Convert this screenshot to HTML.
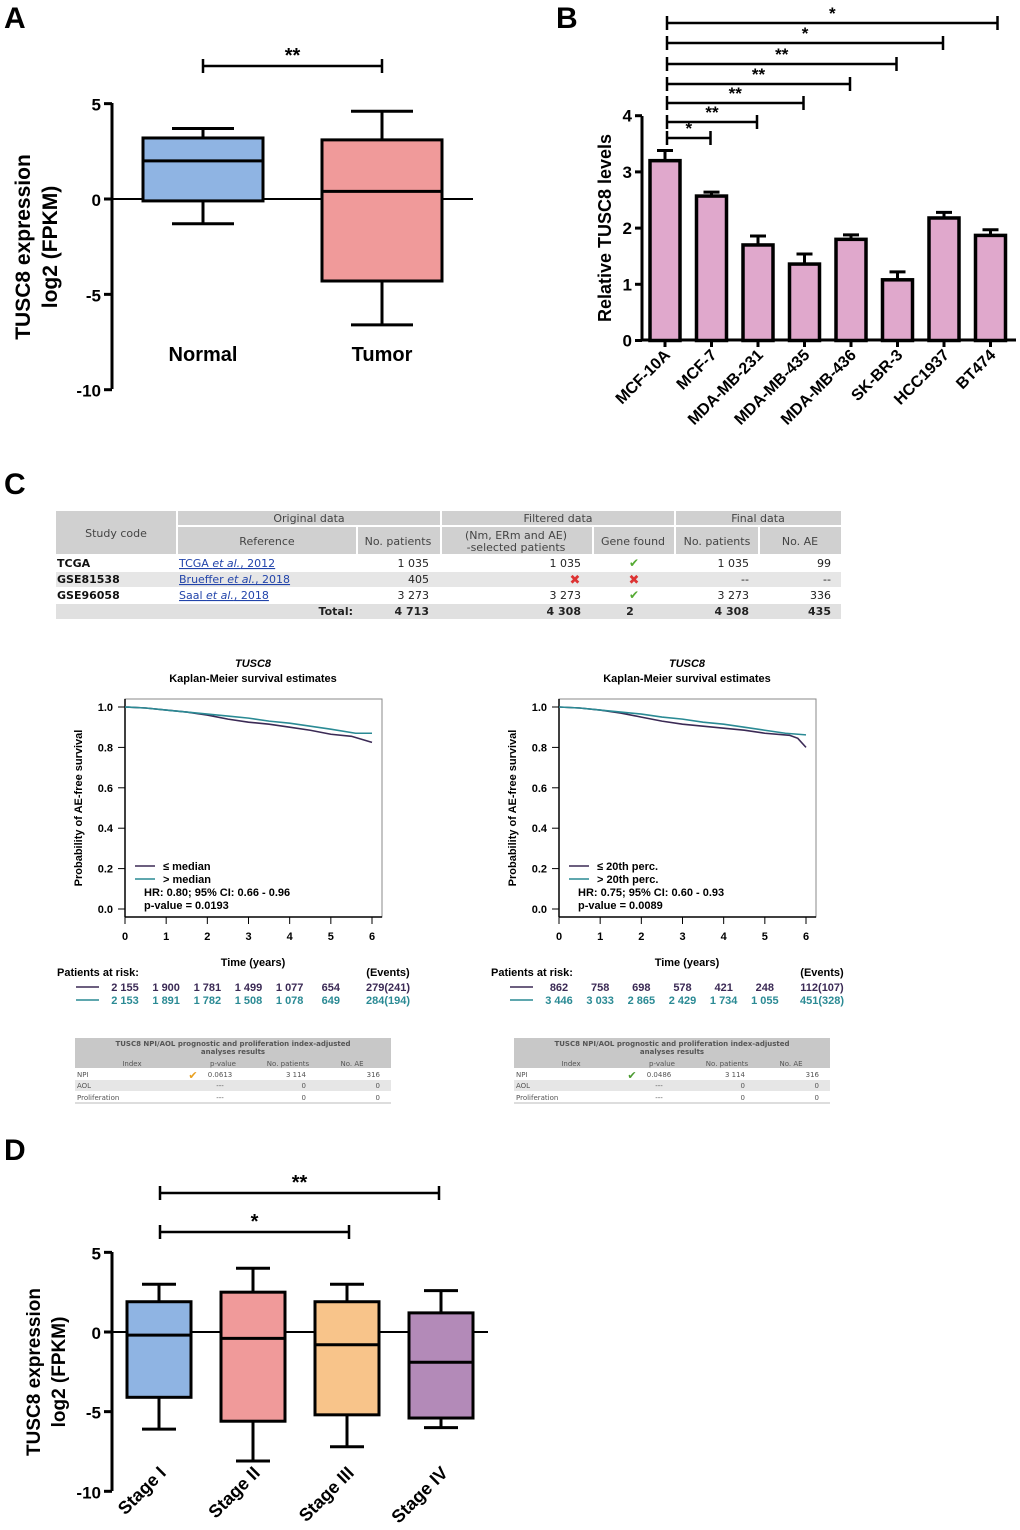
<!DOCTYPE html>
<html><head><meta charset="utf-8"><style>
body{margin:0;background:#fff}
svg{display:block;font-family:"Liberation Sans",Arial,sans-serif}
.ax{stroke:#000;stroke-width:3;fill:none}
.t{font-weight:bold;font-size:17px}
.tbl{font-family:"DejaVu Sans","Liberation Sans",sans-serif;font-size:11px;fill:#222}
.km{font-family:"Liberation Sans",sans-serif;font-weight:bold;font-size:11px}
.sm{font-family:"DejaVu Sans",sans-serif;font-size:7px;fill:#555}
</style></head><body>
<svg id="fig" width="1020" height="1530" viewBox="0 0 1020 1530">
<g font-weight="bold" font-size="30">
<text x="4" y="28">A</text><text x="556" y="28">B</text><text x="4" y="494">C</text><text x="4" y="1160">D</text></g>

<g id="pA">
<line class="ax" x1="112" y1="103" x2="112" y2="389"/>
<text transform="translate(30,247) rotate(-90)" text-anchor="middle" font-size="21" font-weight="bold">TUSC8 expression</text>
<text transform="translate(57,247) rotate(-90)" text-anchor="middle" font-size="21" font-weight="bold">log2 (FPKM)</text>
</g>
<g id="pB">
<line class="ax" x1="642" y1="116" x2="642" y2="341"/>
<line class="ax" x1="642" y1="340" x2="1016" y2="340"/>
<text transform="translate(611,228) rotate(-90)" text-anchor="middle" font-size="18" font-weight="bold">Relative TUSC8 levels</text>
</g>

<g class="tbl">
<rect x="56" y="511" width="120" height="43" fill="#d0d0d0"/>
<rect x="178" y="511" width="262" height="14" fill="#d0d0d0"/>
<rect x="442" y="511" width="232" height="14" fill="#d0d0d0"/>
<rect x="676" y="511" width="165" height="14" fill="#d0d0d0"/>
<rect x="178" y="527" width="178" height="27" fill="#d0d0d0"/>
<rect x="358" y="527" width="82" height="27" fill="#d0d0d0"/>
<rect x="442" y="527" width="150" height="27" fill="#d0d0d0"/>
<rect x="594" y="527" width="80" height="27" fill="#d0d0d0"/>
<rect x="676" y="527" width="82" height="27" fill="#d0d0d0"/>
<rect x="760" y="527" width="81" height="27" fill="#d0d0d0"/>
<rect x="56" y="572" width="785" height="15" fill="#e6e6e6"/>
<rect x="56" y="604" width="785" height="15" fill="#e0e0e0"/>
<g fill="#444" text-anchor="middle">
<text x="116" y="537">Study code</text><text x="309" y="522">Original data</text><text x="558" y="522">Filtered data</text><text x="758" y="522">Final data</text>
<text x="267" y="545">Reference</text><text x="398" y="545">No. patients</text><text x="516" y="539">(Nm, ERm and AE)</text><text x="516" y="551">-selected patients</text><text x="633" y="545">Gene found</text><text x="717" y="545">No. patients</text><text x="800" y="545">No. AE</text></g>
<g font-weight="bold" fill="#111"><text x="57" y="567">TCGA</text><text x="57" y="583">GSE81538</text><text x="57" y="599">GSE96058</text></g>
<g fill="#2244aa" text-decoration="underline"><text x="179" y="567">TCGA <tspan font-style="italic">et al.</tspan>, 2012</text><text x="179" y="583">Brueffer <tspan font-style="italic">et al.</tspan>, 2018</text><text x="179" y="599">Saal <tspan font-style="italic">et al.</tspan>, 2018</text></g>
<g text-anchor="end"><text x="429" y="567">1 035</text><text x="429" y="583">405</text><text x="429" y="599">3 273</text>
<text x="581" y="567">1 035</text><text x="581" y="599">3 273</text><text x="749" y="567">1 035</text><text x="749" y="583">--</text><text x="749" y="599">3 273</text>
<text x="831" y="567">99</text><text x="831" y="583">--</text><text x="831" y="599">336</text>
<g font-weight="bold"><text x="353" y="615">Total:</text><text x="429" y="615">4 713</text><text x="581" y="615">4 308</text><text x="749" y="615">4 308</text><text x="831" y="615">435</text></g></g>
<text x="630" y="615" font-weight="bold" text-anchor="middle">2</text>
<g fill="#5a3" text-anchor="middle" font-size="12"><text x="634" y="567">✔</text><text x="634" y="599">✔</text></g>
<g fill="#d33" text-anchor="middle" font-size="13" font-weight="bold"><text x="575" y="584">✖</text><text x="634" y="584">✖</text></g>
</g>

<g id="km"></g>

<g id="pD">
<line class="ax" x1="112" y1="1252" x2="112" y2="1491"/>
<text transform="translate(40,1372) rotate(-90)" text-anchor="middle" font-size="19" font-weight="bold">TUSC8 expression</text>
<text transform="translate(65,1372) rotate(-90)" text-anchor="middle" font-size="19" font-weight="bold">log2 (FPKM)</text>
</g>
</svg>
<script>
const NS='http://www.w3.org/2000/svg';
function mk(p,tag,a,txt){const e=document.createElementNS(NS,tag);for(const k in a)e.setAttribute(k,a[k]);if(txt!==undefined)e.textContent=txt;p.appendChild(e);return e;}

// ---------- Panel A data ----------
const aCats=['Normal','Tumor'];
const aMin=[-1.3,-6.6];
const aQ1=[-0.1,-4.3];
const aMed=[2.0,0.4];
const aQ3=[3.2,3.1];
const aMax=[3.7,4.6];
const aTicks=[5,0,-5,-10];
// ---------- Panel B data ----------
const bCats=['MCF-10A','MCF-7','MDA-MB-231','MDA-MB-435','MDA-MB-436','SK-BR-3','HCC1937','BT474'];
const bVals=[3.2,2.57,1.7,1.36,1.8,1.08,2.18,1.87];
const bErr=[0.18,0.07,0.16,0.18,0.08,0.14,0.1,0.1];
const bTicks=[0,1,2,3,4];
const bSigTarget=[1,2,3,4,5,6,7];
const bSigLabel=['*','**','**','**','**','*','*'];
// ---------- Panel C KM data ----------
const kmTL1=[0,0.5,1,1.5,2,2.5,3,3.5,4,4.5,5,5.5,6];
const kmL1=[1,0.995,0.985,0.975,0.96,0.94,0.925,0.915,0.9,0.885,0.865,0.855,0.825];
const kmTL2=[0,0.5,1,1.5,2,2.5,3,3.5,4,4.5,5,5.6,6];
const kmL2=[1,0.995,0.985,0.975,0.965,0.955,0.945,0.93,0.92,0.905,0.89,0.87,0.87];
const kmTR1=[0,0.5,1,1.5,2,2.5,3,3.5,4,4.5,5,5.6,5.8,6];
const kmR1=[1,0.995,0.985,0.97,0.95,0.93,0.915,0.905,0.895,0.885,0.87,0.86,0.845,0.80];
const kmTR2=[0,0.5,1,1.5,2,2.5,3,3.5,4,4.5,5,5.5,6];
const kmR2=[1,0.995,0.985,0.975,0.965,0.95,0.94,0.925,0.915,0.9,0.885,0.87,0.862];
const riskL1=['2 155','1 900','1 781','1 499','1 077','654','279(241)'];
const riskL2=['2 153','1 891','1 782','1 508','1 078','649','284(194)'];
const riskR1=['862','758','698','578','421','248','112(107)'];
const riskR2=['3 446','3 033','2 865','2 429','1 734','1 055','451(328)'];
const kmYT=[0,0.2,0.4,0.6,0.8,1.0];
const kmXT=[0,1,2,3,4,5,6];
// ---------- Panel D data ----------
const dCats=['Stage I','Stage II','Stage III','Stage IV'];
const dMin=[-6.1,-8.1,-7.2,-6.0];
const dQ1=[-4.1,-5.6,-5.2,-5.4];
const dMed=[-0.2,-0.4,-0.8,-1.9];
const dQ3=[1.9,2.5,1.9,1.2];
const dMax=[3.0,4.0,3.0,2.6];
const dColors=['#8fb4e3','#f09a9a','#f8c48a','#b38ab8'];
const dTicks=[5,0,-5,-10];

function boxes(g,cats,mn,q1,md,q3,mx,cols,xc,hw,cw,y,sw){
 cats.forEach((c,i)=>{const cx=xc(i);
  let e=mk(g,'line',{x1:cx,x2:cx,y1:y(mx[i]),y2:y(q3[i]),stroke:'#000','stroke-width':sw});
  
  
  e=mk(g,'line',{x1:cx,x2:cx,y1:y(q1[i]),y2:y(mn[i]),stroke:'#000','stroke-width':sw});
  
  
  e=mk(g,'line',{x1:cx-cw,x2:cx+cw,y1:y(mx[i]),y2:y(mx[i]),stroke:'#000','stroke-width':sw});
  
  
  e=mk(g,'line',{x1:cx-cw,x2:cx+cw,y1:y(mn[i]),y2:y(mn[i]),stroke:'#000','stroke-width':sw});
  
  
  e=mk(g,'rect',{x:cx-hw,y:y(q3[i]),width:2*hw,height:y(q1[i])-y(q3[i]),fill:cols[i],stroke:'#000','stroke-width':sw});
  
  
  e=mk(g,'line',{x1:cx-hw,x2:cx+hw,y1:y(md[i]),y2:y(md[i]),stroke:'#000','stroke-width':sw});
  
  
 });
}
function sig(g,x1,x2,yy,lab,fs){
 let e=mk(g,'path',{d:`M${x1},${yy-7}V${yy+7}M${x1},${yy}H${x2}M${x2},${yy-7}V${yy+7}`,stroke:'#000','stroke-width':2.5,fill:'none'});
 
 
 e=mk(g,'text',{x:(x1+x2)/2,y:yy-4,'text-anchor':'middle','font-size':fs,'font-weight':'bold'},lab);
 
 
}

(function(){const g=document.getElementById('pA');
 const y=v=>199-v*19.07;
 aTicks.forEach(t=>{let e=mk(g,'line',{x1:104,x2:112,y1:y(t),y2:y(t),stroke:'#000','stroke-width':3});
  
  
  e=mk(g,'text',{x:101,y:y(t)+7,'text-anchor':'end',class:'t'},String(t));
  
  });
 let e=mk(g,'line',{x1:112,x2:473,y1:y(0),y2:y(0),stroke:'#000','stroke-width':2});
 
 
 const xc=i=>203+i*179;
 boxes(g,aCats,aMin,aQ1,aMed,aQ3,aMax,['#8fb4e3','#f09a9a'],xc,60,31,y,3);
 aCats.forEach((c,i)=>{const t=mk(g,'text',{x:xc(i),y:361,'text-anchor':'middle','font-size':20,'font-weight':'bold'},c);
  
  });
 sig(g,xc(0),xc(1),66,'**',20);
})();

(function(){const g=document.getElementById('pB');
 const y=v=>340.5-v*56.2; const xc=i=>665+i*46.5;
 bTicks.forEach(t=>{let e=mk(g,'line',{x1:635,x2:642,y1:y(t),y2:y(t),stroke:'#000','stroke-width':3});
  
  
  e=mk(g,'text',{x:632,y:y(t)+6,'text-anchor':'end',class:'t'},String(t));
  
  });
 bCats.forEach((c,i)=>{const cx=xc(i);
  let e=mk(g,'path',{d:`M${cx-8},${y(bVals[i]+bErr[i])}H${cx+8}M${cx},${y(bVals[i]+bErr[i])}V${y(bVals[i])}`,stroke:'#000','stroke-width':3});
  
  
  e=mk(g,'rect',{x:cx-15,y:y(bVals[i]),width:30,height:y(0)-y(bVals[i]),fill:'#e0a8cc',stroke:'#000','stroke-width':3.5});
  
  
  e=mk(g,'line',{x1:cx,x2:cx,y1:340,y2:347,stroke:'#000','stroke-width':3});
  
  
  e=mk(g,'text',{transform:`translate(${cx+6},${356}) rotate(-45)`,'text-anchor':'end','font-size':16,'font-weight':'bold'},c);
  
  
 });
 const ys=[138,122,103,84,64,43,23];
 bSigTarget.forEach((t,k)=>{sig(g,667,xc(t)+(k==6?7:-1),ys[k],bSigLabel[k],17);});
})();

(function(){const g=document.getElementById('km');
 function plot(ox,s1t,s1,s2t,s2,leg1,leg2,hr,pv,r1,r2){
  const X=t=>ox+t*(247/6), Y=p=>909-p*202;
  let e=mk(g,'rect',{x:ox,y:699,width:257,height:218,fill:'none',stroke:'#888','stroke-width':1});
  
  
  e=mk(g,'path',{d:`M${ox},917H${ox+257}M${ox},917V699`,stroke:'#000','stroke-width':1.5,fill:'none'});
  
  
  e=mk(g,'text',{x:ox+128,y:667,'text-anchor':'middle',class:'km','font-style':'italic'},'TUSC8');
  
  
  e=mk(g,'text',{x:ox+128,y:682,'text-anchor':'middle',class:'km'},'Kaplan-Meier survival estimates');
  
  
  e=mk(g,'text',{transform:`translate(${ox-43},808) rotate(-90)`,'text-anchor':'middle',class:'km','font-weight':'normal','font-size':'10.5px'},'Probability of AE-free survival');
  
  
  kmYT.forEach(t=>{let e=mk(g,'line',{x1:ox-7,x2:ox,y1:Y(t),y2:Y(t),stroke:'#000'});
   
   
   e=mk(g,'text',{x:ox-12,y:Y(t)+4,'text-anchor':'end',class:'km'},t.toFixed(1));
   
   });
  kmXT.forEach(t=>{let e=mk(g,'line',{x1:X(t),x2:X(t),y1:917,y2:924,stroke:'#000'});
   
   
   e=mk(g,'text',{x:X(t),y:940,'text-anchor':'middle',class:'km'},String(t));
   
   });
  e=mk(g,'text',{x:ox+128,y:966,'text-anchor':'middle',class:'km'},'Time (years)');
  
  
  [[s1t,s1,'#3b2a55'],[s2t,s2,'#2a8a94']].forEach(([ts,s,c],k)=>{let d=`M${X(ts[0])},${Y(s[0])}`;
   for(let i=1;i<s.length;i++){d+=`L${X(ts[i])},${Y(s[i])}`;}
   const e=mk(g,'path',{d:d,stroke:c,'stroke-width':1.6,fill:'none'});
   
   });
  e=mk(g,'line',{x1:ox+10,x2:ox+30,y1:866,y2:866,stroke:'#3b2a55','stroke-width':1.5});
  
  
  e=mk(g,'line',{x1:ox+10,x2:ox+30,y1:879,y2:879,stroke:'#2a8a94','stroke-width':1.5});
  
  
  e=mk(g,'text',{x:ox+38,y:870,class:'km','font-size':'10px'},leg1);
  
  
  e=mk(g,'text',{x:ox+38,y:883,class:'km','font-size':'10px'},leg2);
  
  
  e=mk(g,'text',{x:ox+19,y:896,class:'km','font-size':'10px'},hr);
  
  
  e=mk(g,'text',{x:ox+19,y:909,class:'km','font-size':'10px'},pv);
  
  
  e=mk(g,'text',{x:ox-68,y:976,class:'km','font-size':'10px'},'Patients at risk:');
  
  
  e=mk(g,'text',{x:ox+263,y:976,'text-anchor':'middle',class:'km','font-size':'10px'},'(Events)');
  
  
  [[r1,'#3b2a55',991],[r2,'#2a8a94',1004]].forEach(([r,c,yy])=>{
   const l=mk(g,'line',{x1:ox-49,x2:ox-26,y1:yy-4,y2:yy-4,stroke:c,'stroke-width':1.5});
   
   
   r.forEach((v,i)=>{const t=mk(g,'text',{x:i<6?X(i):ox+263,y:yy,'text-anchor':'middle',class:'km','font-size':'10px',fill:c},v);
    
    });});
 }
 plot(125,kmTL1,kmL1,kmTL2,kmL2,'≤ median','> median','HR: 0.80; 95% CI: 0.66 - 0.96','p-value = 0.0193',riskL1,riskL2);
 plot(559,kmTR1,kmR1,kmTR2,kmR2,'≤ 20th perc.','> 20th perc.','HR: 0.75; 95% CI: 0.60 - 0.93','p-value = 0.0089',riskR1,riskR2);
 function sub(ox,pv,pc,chk){
  let e=mk(g,'rect',{x:ox,y:1038,width:316,height:30,fill:'#c8c8c8'});
  
  
  e=mk(g,'rect',{x:ox,y:1080,width:316,height:11,fill:'#e6e6e6'});
  
  
  e=mk(g,'line',{x1:ox,x2:ox+316,y1:1103,y2:1103,stroke:'#bbb'});
  
  
  const rows=[[ox+158,1046,'TUSC8 NPI/AOL prognostic and proliferation index-adjusted','middle','#333'],[ox+158,1054,'analyses results','middle','#333'],
   [ox+57,1066,'Index','middle','#555'],[ox+148,1066,'p-value','middle','#555'],[ox+213,1066,'No. patients','middle','#555'],[ox+277,1066,'No. AE','middle','#555'],
   [ox+2,1077,'NPI','start','#555'],[ox+145,1077,pv,'middle',pc],[ox+231,1077,'3 114','end','#555'],[ox+305,1077,'316','end','#555'],
   [ox+2,1088,'AOL','start','#555'],[ox+145,1088,'---','middle','#555'],[ox+231,1088,'0','end','#555'],[ox+305,1088,'0','end','#555'],
   [ox+2,1100,'Proliferation','start','#555'],[ox+145,1100,'---','middle','#555'],[ox+231,1100,'0','end','#555'],[ox+305,1100,'0','end','#555']];
  rows.forEach((r,k)=>{const t=mk(g,'text',{x:r[0],y:r[1],'text-anchor':r[3],class:'sm',fill:r[4],'font-weight':k<2?'bold':'normal'},r[2]);
   
   });
  e=mk(g,'text',{x:ox+118,y:1079,'text-anchor':'middle','font-size':11,fill:chk},'✔');
  
  
 }
 sub(75,'0.0613','#e8743b','#e8a020');
 sub(514,'0.0486','#3a8a2a','#4a9a30');
})();

(function(){const g=document.getElementById('pD');
 const y=v=>1332-v*15.93; const xc=i=>159+i*94;
 dTicks.forEach(t=>{let e=mk(g,'line',{x1:104,x2:112,y1:y(t),y2:y(t),stroke:'#000','stroke-width':3});
  
  
  e=mk(g,'text',{x:101,y:y(t)+7,'text-anchor':'end',class:'t'},String(t));
  
  });
 let e=mk(g,'line',{x1:112,x2:488,y1:y(0),y2:y(0),stroke:'#000','stroke-width':2});
 
 
 boxes(g,dCats,dMin,dQ1,dMed,dQ3,dMax,dColors,xc,32,17,y,3);
 dCats.forEach((c,i)=>{const t=mk(g,'text',{transform:`translate(${xc(i)+8},${1474}) rotate(-45)`,'text-anchor':'end','font-size':18,'font-weight':'bold'},c);
  
  });
 sig(g,xc(0)+1,xc(3)-2,1193,'**',20);
 sig(g,xc(0)+1,xc(2)+2,1232,'*',20);
})();
</script>
</body></html>
